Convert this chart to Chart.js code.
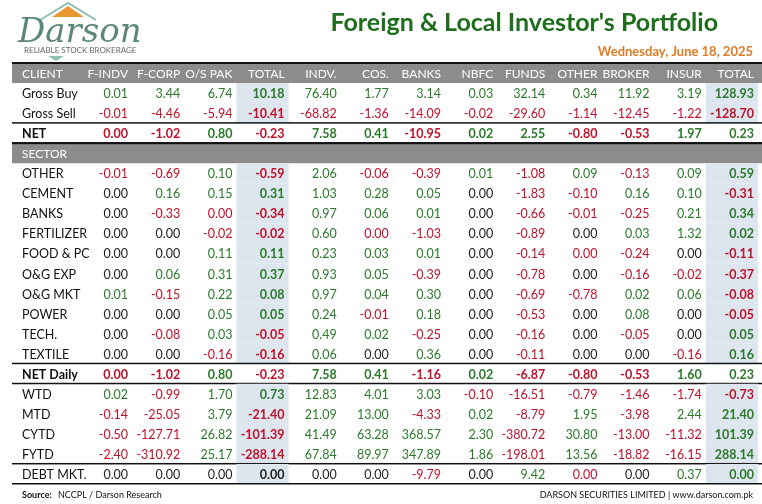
<!DOCTYPE html>
<html>
<head>
<meta charset="utf-8">
<script src="https://cdn.jsdelivr.net/npm/chart.js@4/dist/chart.umd.min.js"></script>
<style>
  body { margin: 0; background: #fff; }
  #wrap { width: 762px; height: 504px; }
</style>
</head>
<body>
<div id="wrap"><canvas id="portfolio"></canvas></div>
<script>
// columns of the table
const columns = ['F-INDV', 'F-CORP', 'O/S PAK', 'TOTAL', 'INDV.', 'COS.', 'BANKS', 'NBFC', 'FUNDS', 'OTHER', 'BROKER', 'INSUR', 'TOTAL'];

// client rows (tiny +/-0.001 = values that round to 0.00 but show coloured)
const grossBuy  = [0.01, 3.44, 6.74, 10.18, 76.40, 1.77, 3.14, 0.03, 32.14, 0.34, 11.92, 3.19, 128.93];
const grossSell = [-0.01, -4.46, -5.94, -10.41, -68.82, -1.36, -14.09, -0.02, -29.60, -1.14, -12.45, -1.22, -128.70];
const net       = [-0.001, -1.02, 0.80, -0.23, 7.58, 0.41, -10.95, 0.02, 2.55, -0.80, -0.53, 1.97, 0.23];

const sectors = ['OTHER', 'CEMENT', 'BANKS', 'FERTILIZER', 'FOOD & PC', 'O&G EXP', 'O&G MKT', 'POWER', 'TECH.', 'TEXTILE'];
const sectorValues = [
  [-0.01, -0.69, 0.10, -0.59, 2.06, -0.06, -0.39, 0.01, -1.08, 0.09, -0.13, 0.09, 0.59],
  [0, 0.16, 0.15, 0.31, 1.03, 0.28, 0.05, 0, -1.83, -0.10, 0.16, 0.10, -0.31],
  [0, -0.33, -0.001, -0.34, 0.97, 0.06, 0.01, 0, -0.66, -0.01, -0.25, 0.21, 0.34],
  [0, 0, -0.02, -0.02, 0.60, -0.001, -1.03, 0, -0.89, 0, 0.03, 1.32, 0.02],
  [0, 0, 0.11, 0.11, 0.23, 0.03, 0.01, 0, -0.14, -0.001, -0.24, 0, -0.11],
  [0, 0.06, 0.31, 0.37, 0.93, 0.05, -0.39, 0, -0.78, 0, -0.16, -0.02, -0.37],
  [0.01, -0.15, 0.22, 0.08, 0.97, 0.04, 0.30, 0, -0.69, -0.78, 0.02, 0.06, -0.08],
  [0, 0, 0.05, 0.05, 0.24, -0.01, 0.18, 0, -0.53, 0, 0.08, 0, -0.05],
  [0, -0.08, 0.03, -0.05, 0.49, 0.02, -0.25, 0, -0.16, 0, -0.05, 0, 0.05],
  [0, 0, -0.16, -0.16, 0.06, 0, 0.36, 0, -0.11, 0, 0, -0.16, 0.16]
];

const netDaily = [-0.001, -1.02, 0.80, -0.23, 7.58, 0.41, -1.16, 0.02, -6.87, -0.80, -0.53, 1.60, 0.23];
const wtd  = [0.02, -0.99, 1.70, 0.73, 12.83, 4.01, 3.03, -0.10, -16.51, -0.79, -1.46, -1.74, -0.73];
const mtd  = [-0.14, -25.05, 3.79, -21.40, 21.09, 13.00, -4.33, 0.02, -8.79, 1.95, -3.98, 2.44, 21.40];
const cytd = [-0.50, -127.71, 26.82, -101.39, 41.49, 63.28, 368.57, 2.30, -380.72, 30.80, -13.00, -11.32, 101.39];
const fytd = [-2.40, -310.92, 25.17, -288.14, 67.84, 89.97, 347.89, 1.86, -198.01, 13.56, -18.82, -16.15, 288.14];
const debt = [0, 0, 0, 0, 0, 0, -9.79, 0, 9.42, -0.001, 0, 0.37, 0.001];

// table rows built from the arrays above
const rows = [
  { label: 'CLIENT', kind: 'header' },
  { label: 'Gross Buy', values: grossBuy },
  { label: 'Gross Sell', values: grossSell },
  { label: 'NET', values: net, bold: true },
  { label: 'SECTOR', kind: 'section' },
  ...sectors.map((s, i) => ({ label: s, values: sectorValues[i] })),
  { label: 'NET Daily', values: netDaily, bold: true },
  { label: 'WTD', values: wtd },
  { label: 'MTD', values: mtd },
  { label: 'CYTD', values: cytd },
  { label: 'FYTD', values: fytd },
  { label: 'DEBT MKT.', values: debt }
];
const lineAfter = ['Gross Sell', 'NET', 'TEXTILE', 'NET Daily', 'FYTD', 'DEBT MKT.'];

const GREEN = '#2a7a2a', RED = '#c0102a', DARK = '#222';
const FONT = 'Lato, "Open Sans", sans-serif';

const fmt = v => Math.abs(v) < 0.005 ? '0.00' : v.toFixed(2);
const colour = v => v > 0 ? GREEN : (v < 0 ? RED : DARK);

const tablePlugin = {
  id: 'table',
  afterDraw(chart) {
    const ctx = chart.ctx;
    const x = chart.scales.x, y = chart.scales.y;
    const rowH = y.getPixelForValue(1) - y.getPixelForValue(0);
    const colW = x.getPixelForValue(1) - x.getPixelForValue(0);
    const left = 12, right = chart.width;
    ctx.save();

    // logo
    ctx.fillStyle = '#e8962e';
    ctx.beginPath(); ctx.moveTo(52, 17); ctx.lineTo(68, 6); ctx.lineTo(84, 17); ctx.fill();
    ctx.strokeStyle = '#8fbfad'; ctx.lineWidth = 2;
    ctx.beginPath(); ctx.moveTo(40, 20); ctx.lineTo(68, 3); ctx.lineTo(96, 20); ctx.stroke();
    ctx.fillStyle = '#5d8878';
    ctx.font = 'italic 34px "DejaVu Serif", serif';
    ctx.textBaseline = 'alphabetic'; ctx.textAlign = 'left';
    ctx.fillText('Darson', 18, 42);
    ctx.fillStyle = '#666'; ctx.font = '8px ' + FONT;
    ctx.fillText('RELIABLE STOCK BROKERAGE', 24, 53);
    ctx.fillStyle = '#8fbfad';
    ctx.beginPath(); ctx.moveTo(48, 56); ctx.lineTo(64, 56); ctx.lineTo(56, 61); ctx.fill();

    // title & date
    ctx.textAlign = 'right';
    ctx.fillStyle = '#1e6e1e'; ctx.font = 'bold 25px ' + FONT;
    ctx.fillText("Foreign & Local Investor's Portfolio", 718, 31);
    ctx.fillStyle = '#e07b24'; ctx.font = 'bold 13px ' + FONT;
    ctx.fillText('Wednesday, June 18, 2025', 753, 56);

    ctx.textBaseline = 'middle';
    rows.forEach((r, j) => {
      const cy = y.getPixelForValue(j);
      const top = cy - rowH / 2;
      if (r.kind) {
        ctx.fillStyle = '#8c8c8c';
        ctx.fillRect(left, top, right - left, rowH);
        ctx.fillStyle = '#fff'; ctx.font = '12px ' + FONT; ctx.textAlign = 'left';
        ctx.fillText(r.label, 22, cy + 1);
        if (r.kind === 'header') {
          ctx.textAlign = 'right';
          columns.forEach((c, i) => ctx.fillText(c, x.getPixelForValue(i) + 22, cy + 1));
        }
        ctx.fillStyle = '#111'; ctx.fillRect(left, top - 1, right - left, 2);
        return;
      }
      if (!r.bold) {
        ctx.fillStyle = '#dde6ef';
        [3, 12].forEach(i => ctx.fillRect(x.getPixelForValue(i) - colW / 2, top, colW, rowH));
      }
      ctx.fillStyle = '#111'; ctx.textAlign = 'left';
      ctx.font = (r.bold ? 'bold ' : '') + '12.5px ' + FONT;
      ctx.fillText(r.label, 22, cy + 1);
      ctx.textAlign = 'right';
      r.values.forEach((v, i) => {
        const b = r.bold || i === 3 || i === 12;
        ctx.font = (b ? 'bold ' : '') + '12.5px ' + FONT;
        ctx.fillStyle = colour(v);
        ctx.fillText(fmt(v), x.getPixelForValue(i) + 22, cy + 1);
      });
      if (lineAfter.includes(r.label)) {
        ctx.fillStyle = '#111';
        ctx.fillRect(left, top + rowH - 1, right - left, 1.5);
      }
    });

    // footer
    ctx.textBaseline = 'alphabetic'; ctx.textAlign = 'left';
    ctx.fillStyle = '#111'; ctx.font = 'bold 9px ' + FONT;
    ctx.fillText('Source:', 22, 498);
    ctx.font = '9px ' + FONT;
    ctx.fillText('NCCPL / Darson Research', 58, 498);
    ctx.textAlign = 'right';
    ctx.fillText('DARSON SECURITIES LIMITED | www.darson.com.pk', 753, 498);
    ctx.restore();
  }
};

new Chart(document.getElementById('portfolio'), {
  type: 'bar',
  data: { labels: columns, datasets: [{ data: [] }] },
  options: {
    responsive: true,
    maintainAspectRatio: false,
    animation: false,
    layout: { padding: { left: 80, right: 4, top: 63, bottom: 20 } },
    plugins: { legend: { display: false }, tooltip: { enabled: false } },
    scales: {
      x: { type: 'category', labels: columns, offset: true, display: false },
      y: { type: 'category', labels: rows.map(r => r.label), offset: true, display: false }
    }
  },
  plugins: [tablePlugin]
});
</script>
</body>
</html>
